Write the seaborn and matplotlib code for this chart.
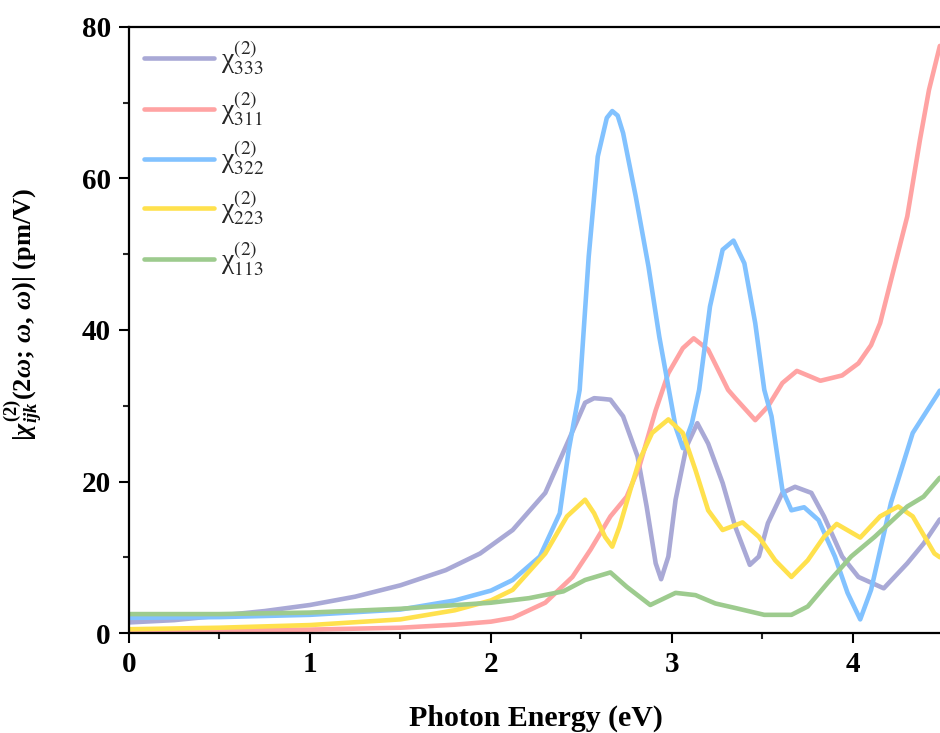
import numpy as np
import pandas as pd
import matplotlib
matplotlib.use("Agg")
import matplotlib.pyplot as plt
from matplotlib.ticker import MultipleLocator
import seaborn as sns

# ---- data ----
x333 = [0, 0.25, 0.5, 0.75, 1.0, 1.25, 1.5, 1.75, 1.94, 2.12, 2.30, 2.43, 2.52, 2.57, 2.62, 2.66,
        2.73, 2.81, 2.86, 2.91, 2.94, 2.98, 3.02, 3.08, 3.14, 3.20, 3.28, 3.35, 3.43, 3.48, 3.53,
        3.61, 3.68, 3.77, 3.84, 3.94, 4.03, 4.17, 4.30, 4.39, 4.48]
y333 = [1.4, 1.7, 2.3, 2.9, 3.7, 4.8, 6.3, 8.3, 10.5, 13.6, 18.5, 25.5, 30.4, 31.0, 30.9, 30.8,
        28.6, 23.3, 16.7, 9.2, 7.1, 10.1, 17.6, 24.6, 27.7, 25.0, 19.8, 14.0, 9.0, 10.1, 14.5,
        18.5, 19.3, 18.5, 15.4, 10.1, 7.4, 5.9, 9.2, 11.8, 15.0]

x311 = [0, 0.5, 1.0, 1.5, 1.8, 2.0, 2.12, 2.30, 2.45, 2.55, 2.66, 2.75, 2.82, 2.91, 2.98, 3.06,
        3.12, 3.20, 3.31, 3.35, 3.46, 3.53, 3.61, 3.69, 3.75, 3.82, 3.94, 4.03, 4.10, 4.15, 4.22,
        4.30, 4.37, 4.42, 4.48]
y311 = [0.3, 0.35, 0.45, 0.7, 1.1, 1.5, 2.0, 4.0, 7.4, 11.0, 15.4, 18.0, 22.0, 29.4, 34.3, 37.6,
        38.9, 37.4, 32.1, 31.0, 28.1, 29.9, 33.0, 34.6, 34.0, 33.3, 34.0, 35.6, 38.0, 40.9, 47.5,
        55.0, 65.1, 71.7, 77.5]

x322 = [0, 0.5, 1.0, 1.5, 1.8, 2.0, 2.12, 2.27, 2.38, 2.43, 2.49, 2.54, 2.59, 2.64, 2.67, 2.70,
        2.73, 2.80, 2.87, 2.93, 2.98, 3.02, 3.06, 3.11, 3.15, 3.21, 3.28, 3.34, 3.40, 3.46, 3.51,
        3.55, 3.61, 3.66, 3.73, 3.81, 3.90, 3.97, 4.04, 4.10, 4.21, 4.33, 4.48]
y322 = [2.0, 2.1, 2.4, 3.1, 4.3, 5.6, 7.0, 10.1, 15.8, 24.2, 32.1, 49.7, 62.9, 68.0, 68.9, 68.3,
        66.0, 57.6, 48.4, 39.1, 32.5, 27.2, 24.4, 27.7, 32.1, 43.1, 50.6, 51.8, 48.8, 40.9, 32.1,
        28.6, 18.9, 16.2, 16.6, 14.9, 10.1, 5.3, 1.8, 5.7, 17.2, 26.4, 32.0]

x223 = [0, 0.5, 1.0, 1.5, 1.8, 2.0, 2.12, 2.30, 2.42, 2.52, 2.57, 2.63, 2.67, 2.71, 2.77, 2.82,
        2.89, 2.98, 3.06, 3.13, 3.20, 3.28, 3.39, 3.48, 3.57, 3.66, 3.75, 3.84, 3.91, 4.04, 4.15,
        4.25, 4.33, 4.45, 4.48]
y223 = [0.5, 0.7, 1.05, 1.8, 3.0, 4.3, 5.7, 10.5, 15.4, 17.6, 15.8, 12.7, 11.4, 14.0, 18.9, 22.8,
        26.4, 28.2, 26.4, 21.5, 16.2, 13.6, 14.6, 12.7, 9.6, 7.4, 9.6, 12.7, 14.4, 12.6, 15.4,
        16.7, 15.4, 10.5, 10.0]

x113 = [0, 0.5, 1.0, 1.5, 2.0, 2.21, 2.40, 2.52, 2.66, 2.75, 2.88, 3.02, 3.13, 3.24, 3.35, 3.51,
        3.66, 3.75, 3.86, 3.99, 4.12, 4.30, 4.39, 4.48]
y113 = [2.5, 2.5, 2.7, 3.2, 4.0, 4.6, 5.5, 7.0, 8.0, 6.1, 3.7, 5.3, 5.0, 3.9, 3.3, 2.4,
        2.4, 3.5, 6.6, 10.1, 12.7, 16.7, 18.0, 20.5]

labels = ["χ${}^{(2)}_{333}$", "χ${}^{(2)}_{311}$", "χ${}^{(2)}_{322}$",
          "χ${}^{(2)}_{223}$", "χ${}^{(2)}_{113}$"]
colors = ["#a9a9d6", "#ffa3a3", "#82c2ff", "#ffe14d", "#9dcb8e"]
xs = [x333, x311, x322, x223, x113]
ys = [y333, y311, y322, y223, y113]
xticks = [0, 1, 2, 3, 4]
yticks = [0, 20, 40, 60, 80]

frames = []
for lab, xx, yy in zip(labels, xs, ys):
    frames.append(pd.DataFrame({"E": xx, "chi": yy, "comp": lab}))
df = pd.concat(frames, ignore_index=True)

sns.set_style("ticks")
plt.rcParams["font.family"] = ["Liberation Serif", "DejaVu Serif"]
plt.rcParams["mathtext.fontset"] = "custom"
plt.rcParams["mathtext.rm"] = "Liberation Serif:bold"
plt.rcParams["mathtext.it"] = "Liberation Serif:italic:bold"
plt.rcParams["mathtext.bf"] = "Liberation Serif:bold"

fig = plt.figure(figsize=(9.4, 7.33), dpi=100)
ax = fig.add_axes([0.1372, 0.1364, 0.8665, 0.8268])

sns.lineplot(data=df, x="E", y="chi", hue="comp", hue_order=labels,
             palette=dict(zip(labels, colors)), sort=False, estimator=None,
             linewidth=3.3, ax=ax, legend=False)
for ln in ax.get_lines():
    ln.set_solid_joinstyle("round")
    ln.set_solid_capstyle("round")

ax.set_xlim(0, 4.5)
ax.set_ylim(0, 80)
ax.set_xticks(xticks)
ax.set_yticks(yticks)
ax.xaxis.set_minor_locator(MultipleLocator(0.5))
ax.yaxis.set_minor_locator(MultipleLocator(10))
ax.tick_params(which="major", direction="out", length=7, width=1.5, labelsize=21, pad=6,
               colors="black")
ax.tick_params(which="minor", direction="out", length=4, width=1.5)
for lab in ax.get_xticklabels() + ax.get_yticklabels():
    lab.set_fontweight("bold")
for sp in ["left", "bottom", "top", "right"]:
    ax.spines[sp].set_linewidth(1.6)
    ax.spines[sp].set_color("black")

ax.set_xlabel("Photon Energy (eV)", fontsize=21.5, fontweight="bold", color="black")
ax.xaxis.set_label_coords(0.5, -0.118)
ax.set_ylabel(r"$|\chi^{(2)}_{ijk}(2\omega;\,\omega,\,\omega)|$ (pm/V)", fontsize=19,
              fontweight="bold", color="black")
ax.yaxis.set_label_coords(-0.103, 0.526)

handles = [plt.Line2D([], [], color=c, lw=3.3, solid_capstyle="round") for c in colors]
leg = ax.legend(handles, labels, loc="upper left", bbox_to_anchor=(0.012, 0.99),
                frameon=False, handlelength=2.5, handletextpad=0.25, labelspacing=0.42,
                borderaxespad=0.0, borderpad=0.2,
                prop={"size": 20, "family": ["Liberation Serif"], "math_fontfamily": "stix"})

fig.savefig("out.png", dpi=100)
